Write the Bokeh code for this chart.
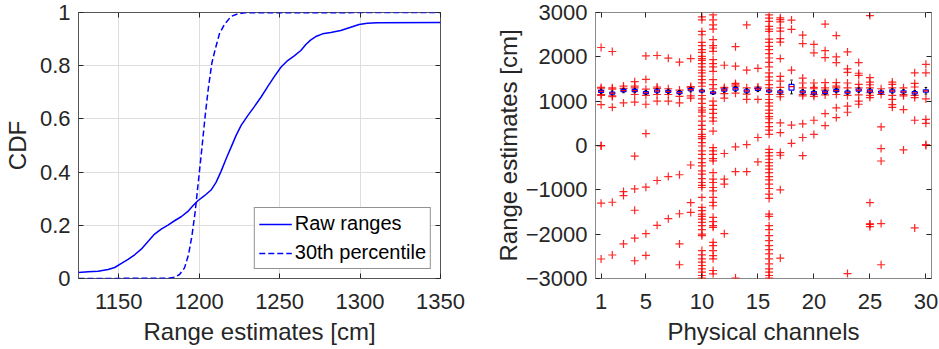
from bokeh.plotting import figure
from bokeh.layouts import row
from bokeh.models import FixedTicker, LinearAxis, Legend, LegendItem, ColumnDataSource
from bokeh.embed import file_html
from bokeh.resources import INLINE

# ---------------- data: left panel (CDF) ----------------
raw_x = [1125, 1131.0, 1137.2, 1143.4, 1147.5, 1151.7, 1155.8, 1159.9, 1164.0, 1168.2, 1172.3,
         1176.4, 1180.6, 1184.7, 1188.8, 1193.0, 1196.1, 1199.2, 1203.3, 1207.4, 1210.5, 1213.6,
         1216.7, 1219.8, 1222.9, 1226.0, 1230.2, 1234.3, 1238.4, 1242.6, 1246.7, 1250.8, 1255.0,
         1259.1, 1263.2, 1266.3, 1269.4, 1272.5, 1276.7, 1281.8, 1288.0, 1294.2, 1299.4, 1304.5,
         1310.7, 1350]
raw_cdf = [0.0226, 0.0251, 0.0276, 0.0339, 0.0414, 0.0565, 0.0715, 0.0891, 0.1104, 0.1393,
           0.1669, 0.1857, 0.2008, 0.2171, 0.2321, 0.2522, 0.2735, 0.2923, 0.3112, 0.3325,
           0.3614, 0.4028, 0.4492, 0.4931, 0.5370, 0.5747, 0.6123, 0.6462, 0.6813, 0.7215,
           0.7591, 0.7942, 0.8193, 0.8369, 0.8570, 0.8795, 0.8971, 0.9097, 0.9197, 0.9247,
           0.9322, 0.9448, 0.9548, 0.9598, 0.9611, 0.9623]
p30_x = [1125, 1180.6, 1184.7, 1187.8, 1190.9, 1193.4, 1195.5, 1197.5, 1199.6, 1201.7, 1203.7,
         1205.8, 1207.9, 1209.9, 1212.6, 1215.7, 1219.8, 1224.0, 1228.1, 1350]
p30_cdf = [0.0, 0.001, 0.005, 0.015, 0.04, 0.09, 0.16, 0.25, 0.37, 0.49, 0.61,
           0.72, 0.81, 0.86, 0.92, 0.955, 0.985, 0.995, 0.999, 1.0]
left_xticks = [1150, 1200, 1250, 1300, 1350]
left_yticks = [0, 0.2, 0.4, 0.6, 0.8, 1]
left_ylabels = ["0", "0.2", "0.4", "0.6", "0.8", "1"]

# ---------------- data: right panel (boxplot) ----------------
channels = list(range(1, 31))
med = [1220, 1180, 1240, 1240, 1190, 1230, 1220, 1190, 1260, 1230, 1190, 1250, 1280, 1230, 1270,
       1230, 1210, 1330, 1210, 1190, 1200, 1240, 1200, 1250, 1230, 1200, 1230, 1210, 1190, 1230]
q1 = [1195, 1160, 1215, 1215, 1170, 1205, 1200, 1170, 1235, 1210, 1170, 1225, 1250, 1205, 1245,
      1210, 1185, 1250, 1185, 1165, 1175, 1215, 1180, 1225, 1205, 1180, 1205, 1190, 1165, 1205]
q3 = [1245, 1205, 1265, 1265, 1215, 1255, 1245, 1215, 1285, 1250, 1210, 1275, 1305, 1255, 1295,
      1250, 1235, 1380, 1235, 1215, 1225, 1265, 1225, 1275, 1255, 1225, 1255, 1235, 1215, 1255]
wlo = [1170, 1140, 1190, 1190, 1150, 1180, 1175, 1150, 1210, 1190, 1150, 1200, 1220, 1180, 1220,
       1190, 1160, 1165, 1160, 1140, 1150, 1190, 1155, 1200, 1180, 1160, 1180, 1165, 1140, 1160]
whi = [1270, 1230, 1290, 1290, 1240, 1280, 1270, 1240, 1310, 1270, 1230, 1300, 1330, 1280, 1320,
       1270, 1260, 1475, 1260, 1240, 1250, 1290, 1250, 1300, 1280, 1250, 1280, 1260, 1240, 1310]

out_ch1 = [2210, 1310, 1280, 1150, 1130, 920, 0, -10, -1300, -2560]
out_ch2 = [2120, 1300, 1270, 1120, 1100, 860, -1280, -2470]
out_ch3 = [1340, 1290, 960, -1040, -1130, -2220]
out_ch4 = [1440, 1340, 1300, 1150, 980, -240, -980, -1460, -2090, -2600]
out_ch5 = [2020, 1490, 1270, 1130, 930, 270, -940, -1990, -2480]
out_ch6 = [2030, 1320, 1290, 1150, 1000, -790, -1800]
out_ch7 = [1970, 1280, 1150, 1000, -700, -1650]
out_ch8 = [1880, 1250, 1110, 960, -660, -1540, -2220, -2690]
out_ch9 = [1960, 1330, 1300, 1120, 1070, -440, -1290, -1510]
out_ch10 = [2900, 2835, 2573, 2498, 2326, 2251, 2161, 2101, 2012, 1960, 1922, 1847, 1772, 1697,
            1637, 1562, 1487, 1412, 1337, 1128, 1053, 948, 851, 800, 753, 663, 551, 454, 364,
            251, 200, 154, 64, -11, -123, -198, -295, -385, -460, -573, -647, -745, -835, -900,
            -947, -1172, -1396, -1471, -1546, -1600, -1659, -1734, -1809, -1898, -2000, -2033,
            -2370, -2468, -2557, -2632, -2707, -2782, -2857, -2932, -2990]
out_ch11 = [2948, 2835, 2723, 2626, 2386, 2251, 2199, 2124, 1937, 1847, 1772, 1674, 1487, 1375,
            1277, 1000, 903, 813, 723, 626, 551, 326, -48, -123, -198, -295, -348, -610, -760,
            -835, -947, -1022, -1172, -1284, -1359, -1621, -1719, -1809, -1846, -2183, -2258,
            -2370, -2483, -2557, -2820, -2895]
out_ch12 = [1810, 1310, 1280, 1170, 1070, -180, -760, -870, -1990]
out_ch13 = [2230, 1790, 1400, 1370, 1340, 1180, -30, -590, -2990]
out_ch14 = [2720, 1700, 1300, 1160, 1040, 20, -590]
out_ch15 = [1740, 1320, 1290, 1040, 180, -370]
out_ch16 = [2948, 2873, 2798, 2686, 2626, 2573, 2401, 2326, 2236, 2161, 2071, 1974, 1877, 1772,
            1637, 1547, 1472, 1375, 1300, 1150, 1038, 963, 888, 798, 723, 650, 603, 514, 424,
            349, 251, -86, -161, -235, -310, -385, -460, -535, -610, -700, -775, -872, -970,
            -1097, -1194, -1546, -1599, -1809, -1898, -2033, -2145, -2258, -2348, -2445, -2557,
            -2670, -2782, -2857, -2932, -2990]
out_ch17 = [2880, 2840, 2790, 2650, 2580, 2410, 2330, 1960, 1560, 1450, 1310, 1150, 1100, 510,
            290, -160, -220, -1000, -2540]
out_ch18 = [2830, 2620, 1700, 460, 50]
out_ch19 = [2490, 2300, 1520, 1410, 1300, 1150, 1120, 490, 180, -230]
out_ch20 = [2280, 2090, 1410, 1310, 1280, 1150, 1110, 570, 250]
out_ch21 = [2740, 2140, 1980, 1420, 1300, 1250, 1140, 720, 450]
out_ch22 = [2480, 2000, 1870, 1420, 1340, 1300, 1150, 850, 630]
out_ch23 = [2110, 1730, 1650, 1410, 1300, 1130, 890, 750, -2890]
out_ch24 = [1870, 1630, 1580, 1380, 1300, 1140, 1000, 930]
out_ch25 = [2930, 1530, 1430, 1370, 1300, 1190, 1130, 1080, -1290, -1770, -1830, -1780]
out_ch26 = [1280, 1150, 420, -70, -350, -1760, -2690]
out_ch27 = [1430, 1380, 1300, 1130, 1040, 920, 860]
out_ch28 = [1300, 1150, 1120, 810, -100]
out_ch29 = [1640, 1400, 1320, 1130, 1080, 570, -1860]
out_ch30 = [1830, 1640, 1050, 590, 500, 20, 0]
outliers = [out_ch1, out_ch2, out_ch3, out_ch4, out_ch5, out_ch6, out_ch7, out_ch8, out_ch9,
            out_ch10, out_ch11, out_ch12, out_ch13, out_ch14, out_ch15, out_ch16, out_ch17,
            out_ch18, out_ch19, out_ch20, out_ch21, out_ch22, out_ch23, out_ch24, out_ch25,
            out_ch26, out_ch27, out_ch28, out_ch29, out_ch30]
right_xticks = [1, 5, 10, 15, 20, 25, 30]
right_yticks = [-3000, -2000, -1000, 0, 1000, 2000, 3000]

FONT = "Liberation Sans"
TXT = "#262626"


def style(p, frame_color):
    p.outline_line_color = frame_color
    p.outline_line_width = 1
    p.background_fill_color = "white"
    p.border_fill_color = "white"
    for ax in p.axis:
        ax.axis_line_color = None
        ax.major_tick_line_color = TXT
        ax.minor_tick_line_color = None
        ax.major_tick_in = 5
        ax.major_tick_out = 0
        ax.major_label_text_font = FONT
        ax.major_label_text_font_size = "22px"
        ax.major_label_text_color = TXT
        ax.axis_label_text_font = FONT
        ax.axis_label_text_font_size = "24px"
        ax.axis_label_text_color = TXT
        ax.axis_label_text_font_style = "normal"


def mirror(p, xt, yt):
    top = LinearAxis(ticker=FixedTicker(ticks=xt))
    rgt = LinearAxis(ticker=FixedTicker(ticks=yt))
    for ax in (top, rgt):
        ax.axis_line_color = None
        ax.major_tick_line_color = TXT
        ax.minor_tick_line_color = None
        ax.major_tick_in = 5
        ax.major_tick_out = 0
        ax.major_label_text_font_size = "0px"
        ax.major_label_text_color = None
        ax.major_label_standoff = 0
    p.add_layout(top, "above")
    p.add_layout(rgt, "right")


# ---------------- left figure ----------------
p1 = figure(width=470, height=349, x_range=(1125, 1350), y_range=(0, 1),
            output_backend="svg", toolbar_location=None,
            min_border_left=77, min_border_right=30, min_border_top=12, min_border_bottom=71)
l1 = p1.line(raw_x, raw_cdf, line_color="#0000ff", line_width=1.5)
l2 = p1.line(p30_x, p30_cdf, line_color="#0000ff", line_width=1.5, line_dash="6 3")
p1.xaxis.ticker = FixedTicker(ticks=left_xticks)
p1.yaxis.ticker = FixedTicker(ticks=left_yticks)
p1.yaxis.major_label_overrides = {t: s for t, s in zip(left_yticks, left_ylabels)}
p1.xaxis.axis_label = "Range estimates [cm]"
p1.yaxis.axis_label = "CDF"
p1.xgrid.ticker = FixedTicker(ticks=left_xticks)
p1.ygrid.ticker = FixedTicker(ticks=left_yticks)
p1.grid.grid_line_color = "#dedede"
p1.grid.grid_line_width = 1
style(p1, "#555555")
p1.xaxis.major_label_standoff = 15
p1.yaxis.major_label_standoff = 8
p1.xaxis.axis_label_standoff = 6
p1.yaxis.axis_label_standoff = 6
mirror(p1, left_xticks, left_yticks)

legend = Legend(items=[LegendItem(label="Raw ranges", renderers=[l1]),
                       LegendItem(label="30th percentile", renderers=[l2])],
                location="bottom_right")
legend.label_text_font = FONT
legend.label_text_font_size = "20px"
legend.label_text_color = "#000000"
legend.glyph_width = 33
legend.glyph_height = 20
legend.label_height = 20
legend.label_standoff = 3
legend.spacing = 6
legend.padding = 4
legend.margin = 9
legend.border_line_color = "#262626"
legend.border_line_width = 1
legend.background_fill_alpha = 1
p1.add_layout(legend)

# ---------------- right figure ----------------
p2 = figure(width=469, height=349, x_range=(0.5, 30.5), y_range=(-3000, 3000),
            output_backend="svg", toolbar_location=None,
            min_border_left=125, min_border_right=8, min_border_top=11, min_border_bottom=71)

ox, oy = [], []
for ch, vals in zip(channels, outliers):
    for v in vals:
        ox.append(ch)
        oy.append(v)
p2.scatter(ox, oy, marker="cross", size=8, line_color="#ff0000", line_width=1.2, line_alpha=0.85)

bw = 0.45
src = ColumnDataSource(dict(
    ch=channels, med=med, q1=q1, q3=q3, wlo=wlo, whi=whi,
    left=[c - bw / 2 for c in channels], right=[c + bw / 2 for c in channels],
    cl=[c - bw / 4 for c in channels], cr=[c + bw / 4 for c in channels]))
p2.segment(x0="ch", y0="q3", x1="ch", y1="whi", source=src, line_color="#000000",
           line_width=1, line_dash="3 2")
p2.segment(x0="ch", y0="wlo", x1="ch", y1="q1", source=src, line_color="#000000",
           line_width=1, line_dash="3 2")
p2.segment(x0="cl", y0="whi", x1="cr", y1="whi", source=src, line_color="#000000", line_width=1)
p2.segment(x0="cl", y0="wlo", x1="cr", y1="wlo", source=src, line_color="#000000", line_width=1)
p2.quad(left="left", right="right", bottom="q1", top="q3", source=src,
        fill_color=None, line_color="#0000ff", line_width=1.2)
p2.segment(x0="left", y0="med", x1="right", y1="med", source=src, line_color="#ff0000",
           line_width=1.2)

p2.xaxis.ticker = FixedTicker(ticks=right_xticks)
p2.yaxis.ticker = FixedTicker(ticks=right_yticks)
p2.xaxis.axis_label = "Physical channels"
p2.yaxis.axis_label = "Range estimates [cm]"
p2.grid.visible = False
style(p2, "#8a8a8a")
p2.xaxis.major_label_standoff = 15
p2.yaxis.major_label_standoff = 8
p2.xaxis.axis_label_standoff = 6
p2.yaxis.axis_label_standoff = 1
mirror(p2, right_xticks, right_yticks)

layout = row(p1, p2)
open("out.html", "w").write(file_html(layout, INLINE))
